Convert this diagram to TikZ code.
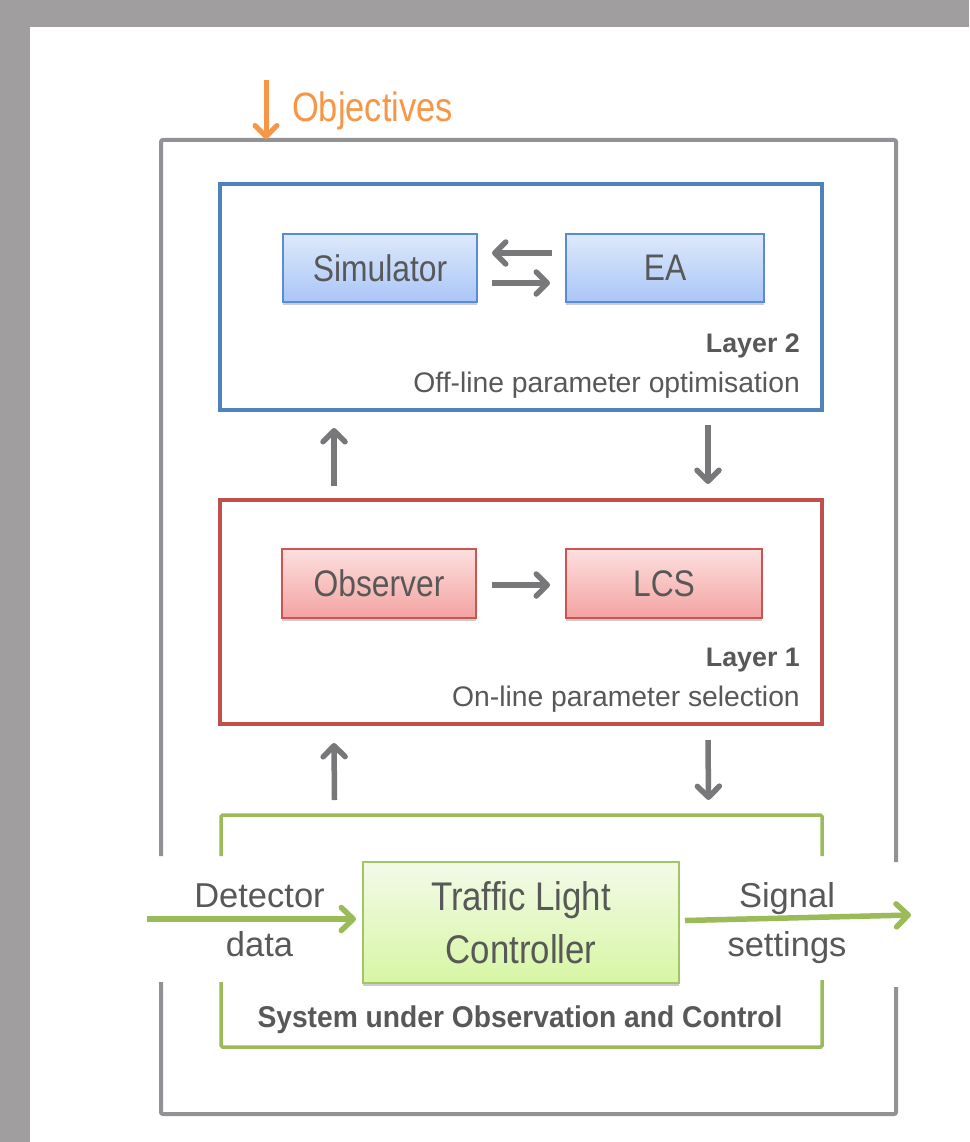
\documentclass[tikz,border=0pt]{standalone}
\usepackage{fontspec}
\setmainfont{Liberation Sans}
\newfontfamily\boxfont[FakeStretch=0.86]{Liberation Sans}
\newfontfamily\tlcfont[FakeStretch=0.87]{Liberation Sans}
\newfontfamily\objfont[FakeStretch=0.84]{Liberation Sans}
\newfontfamily\sysfont[FakeStretch=0.94]{Liberation Sans}
\usetikzlibrary{arrows.meta,calc,shadows}
\definecolor{bggray}{HTML}{A09E9F}
\definecolor{outergray}{HTML}{929296}
\definecolor{objorange}{HTML}{F79646}
\definecolor{ltwoblue}{HTML}{4F81BD}
\definecolor{bluebd}{HTML}{5B8BD2}
\definecolor{bluetop}{HTML}{DEE9FB}
\definecolor{bluebot}{HTML}{A9C6F7}
\definecolor{lonered}{HTML}{C0504D}
\definecolor{redbd}{HTML}{CC5553}
\definecolor{redtop}{HTML}{FCE0DF}
\definecolor{redbot}{HTML}{F3A3A1}
\definecolor{suocgreen}{HTML}{9BBB59}
\definecolor{greenbd}{HTML}{A3C563}
\definecolor{greentop}{HTML}{F3FAE8}
\definecolor{greenbot}{HTML}{D7F6A4}
\definecolor{arrowgray}{HTML}{78787B}
\definecolor{txt}{HTML}{585858}
\tikzset{
  boxlabel/.style={font=\boxfont\fontsize{37}{40}\selectfont, text=txt},
  shad/.style={drop shadow={shadow xshift=0pt, shadow yshift=-3pt, opacity=0.2, fill=black}},
  simbox/.style={shad, draw=bluebd, line width=1.5pt, top color=bluetop, bottom color=bluebot,
                 minimum height=68pt, boxlabel, inner sep=0pt, outer sep=0pt},
  obsbox/.style={shad, draw=redbd, line width=1.5pt, top color=redtop, bottom color=redbot,
                 minimum height=69pt, boxlabel, inner sep=0pt, outer sep=0pt},
  tlcbox/.style={shad, draw=greenbd, line width=1.8pt, top color=greentop, bottom color=greenbot,
                 minimum width=316pt, minimum height=121pt, inner sep=0pt, outer sep=0pt,
                 font=\tlcfont\fontsize{40}{53}\selectfont, text=txt, align=center},
  frame/.style={line width=3.5pt, inner sep=0pt, outer sep=0pt},
  grayarrow/.style={draw=arrowgray, line width=5.5pt, -{Straight Barb[length=11pt,width=22pt,round]}},
  greenarrow/.style={draw=suocgreen, line width=5.5pt, -{Straight Barb[length=12pt,width=23pt,round]}},
  orangearrow/.style={draw=objorange, line width=5pt, -{Straight Barb[length=11pt,width=22pt,round]}},
  layertitle/.style={font=\bfseries\fontsize{26.8}{30}\selectfont, text=txt, anchor=base east, inner sep=0pt},
  layerdesc/.style={font=\fontsize{28.3}{32}\selectfont, text=txt, anchor=base east, inner sep=0pt},
  sidelabel/.style={font=\fontsize{34.5}{49}\selectfont, text=txt, align=center, inner sep=0pt}
}
\begin{document}
\begin{tikzpicture}[x=1pt,y=-1pt]
\useasboundingbox (0,0) rectangle (969,1142);
\fill[bggray] (0,0) rectangle (969,1142);
\fill[white] (30,27) rectangle (969,1142);

% outer system frame
\node[frame, minimum width=735pt, minimum height=974pt] (sys) at (528.5,627) {};
\draw[outergray, line width=4pt, rounded corners=2pt]
  ($(sys.west)+(0,229)$) |- (sys.north east) -- ($(sys.east)+(0,235)$);
\draw[outergray, line width=4pt, rounded corners=2pt]
  ($(sys.west)+(0,355)$) |- (sys.south east) -- ($(sys.east)+(0,360)$);

% objectives
\coordinate (objstart) at (266,80);
\draw[orangearrow] (objstart) -- ($(objstart |- sys.north)+(0,-1)$);
\node[anchor=base west, inner sep=0pt, text=objorange, font=\objfont\fontsize{41}{44}\selectfont] (obj) at (292,122) {Objectives};

% layer 2
\node[frame, draw=ltwoblue, minimum width=602pt, minimum height=226pt] (L2) at (521,297) {};
\node[simbox, minimum width=194pt] (sim) at (380,268) {Simulator};
\node[simbox, minimum width=198pt] (ea) at (665,268) {EA};
\draw[grayarrow] ($(ea.west)+(-14,-15)$) -- ($(sim.east)+(15,-15)$);
\draw[grayarrow] ($(sim.east)+(15,15)$) -- ($(ea.west)+(-16,15)$);
\node[layertitle] (l2t) at ($(L2.south east)+(-22,-58)$) {Layer 2};
\node[layerdesc] (l2d) at ($(L2.south east)+(-22,-18)$) {Off-line parameter optimisation};

% layer 1
\node[frame, draw=lonered, minimum width=602pt, minimum height=224pt] (L1) at (521,612) {};
\node[obsbox, minimum width=194pt] (obs) at (379,583.5) {Observer};
\node[obsbox, minimum width=196pt] (lcs) at (664,583.5) {LCS};
\draw[grayarrow] ($(obs.east)+(16,1.5)$) -- ($(lcs.west)+(-16,1.5)$);
\node[layertitle] (l1t) at ($(L1.south east)+(-22,-58)$) {Layer 1};
\node[layerdesc] (l1d) at ($(L1.south east)+(-22,-18)$) {On-line parameter selection};

% arrows between layers
\draw[grayarrow] ($(L1.north)+(-187,-14)$) -- ($(L2.south)+(-187,18)$);
\draw[grayarrow] ($(L2.south)+(187,15)$) -- ($(L1.north)+(187,-16)$);

% system under observation and control
\node[frame, minimum width=601pt, minimum height=232pt] (suoc) at (521.5,931) {};
\draw[suocgreen, line width=3.5pt, rounded corners=1.5pt]
  ($(suoc.west)+(0,-75)$) |- (suoc.north east) -- ($(suoc.east)+(0,-75)$);
\draw[suocgreen, line width=3.5pt, rounded corners=1.5pt]
  ($(suoc.west)+(0,51)$) |- (suoc.south east) -- ($(suoc.east)+(0,49)$);
\node[font=\sysfont\bfseries\fontsize{30}{32}\selectfont, text=txt, anchor=base, inner sep=0pt] (suoct) at (520,1027) {System under Observation and Control};

\draw[grayarrow] ($(suoc.north)+(-187,-15)$) -- ($(L1.south)+(-187,19)$);
\draw[grayarrow] ($(L1.south)+(187,16)$) -- ($(suoc.north)+(187,-15)$);

\node[tlcbox] (tlc) at (521,922.5) {Traffic Light\\Controller};

\coordinate (din) at (147,919);
\draw[greenarrow, shorten >=7pt] (din) -- (din -| tlc.west);
\coordinate (sout) at (911,915);
\draw[greenarrow] ($(tlc.east)+(6,-2)$) -- (sout);

\node[sidelabel] (det) at (259.5,920) {Detector\\data};
\node[sidelabel] (sig) at (787,923) {Signal\\settings};
\end{tikzpicture}
\end{document}
